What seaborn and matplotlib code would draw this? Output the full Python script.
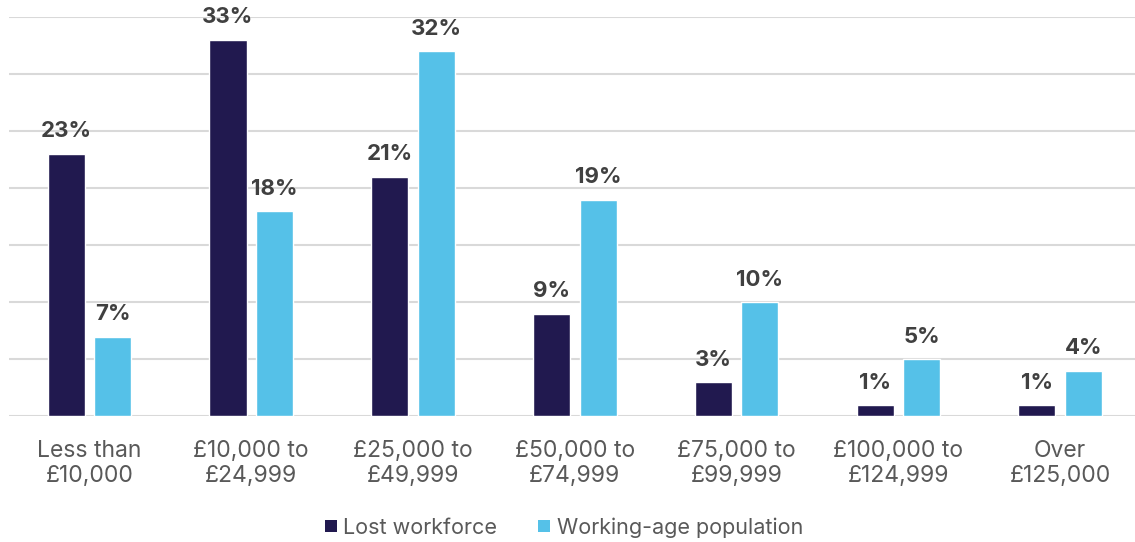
import matplotlib
matplotlib.use("Agg")
import matplotlib.pyplot as plt
from matplotlib.patches import Patch
import seaborn as sns
import pandas as pd

# Household income bands and share of each group (%)
categories = ["Less than\n£10,000", "£10,000 to\n£24,999", "£25,000 to\n£49,999",
              "£50,000 to\n£74,999", "£75,000 to\n£99,999", "£100,000 to\n£124,999",
              "Over\n£125,000"]
series_names = ["Lost workforce", "Working-age population"]
lost_workforce = [23, 33, 21, 9, 3, 1, 1]
working_age = [7, 18, 32, 19, 10, 5, 4]
y_ticks = [0, 5, 10, 15, 20, 25, 30, 35]

colors = ["#21194F", "#55C1E8"]
label_color = "#404040"
tick_color = "#595959"
grid_color = "#D9D9D9"

df = pd.DataFrame({
    "band": categories * 2,
    "group": [series_names[0]] * len(categories) + [series_names[1]] * len(categories),
    "share": lost_workforce + working_age,
})

sns.set_theme(style="white")
plt.rcParams["font.family"] = ["Inter", "DejaVu Sans"]

fig = plt.figure(figsize=(11.35, 5.42), dpi=100)
ax = fig.add_axes([0.0076, 0.2316, 0.9977, 0.737])

sns.barplot(data=df, x="band", y="share", hue="group", order=categories,
            hue_order=series_names, palette=colors, width=0.576, gap=0.205,
            saturation=1, legend=False, ax=ax, zorder=3)

for container in ax.containers:
    ax.bar_label(container, fmt="{:.0f}%", padding=9, fontsize=16,
                 fontweight="bold", color=label_color)

ax.set_ylim(0, 35)
ax.set_yticks(y_ticks)
ax.set_xlim(-0.5, len(categories) - 0.5)
ax.yaxis.grid(True, color=grid_color, linewidth=1.5, zorder=0)
ax.set_axisbelow(True)
ax.tick_params(axis="y", left=False, labelleft=False)
ax.tick_params(axis="x", bottom=False, pad=11, labelsize=16.5, labelcolor=tick_color)
for lbl in ax.get_xticklabels():
    lbl.set_linespacing(1.15)
ax.set_xlabel("")
ax.set_ylabel("")
for side in ["top", "right", "left", "bottom"]:
    ax.spines[side].set_visible(False)

handles = [Patch(facecolor=c, edgecolor="none", label=n) for c, n in zip(colors, series_names)]
leg = fig.legend(handles=handles, loc="center", bbox_to_anchor=(0.497, 0.027), ncol=2,
                 frameon=False, fontsize=15.5, handlelength=0.55, handleheight=0.55,
                 handletextpad=0.3, columnspacing=1.9)
for t in leg.get_texts():
    t.set_color(tick_color)

fig.savefig("out.png", dpi=100)
